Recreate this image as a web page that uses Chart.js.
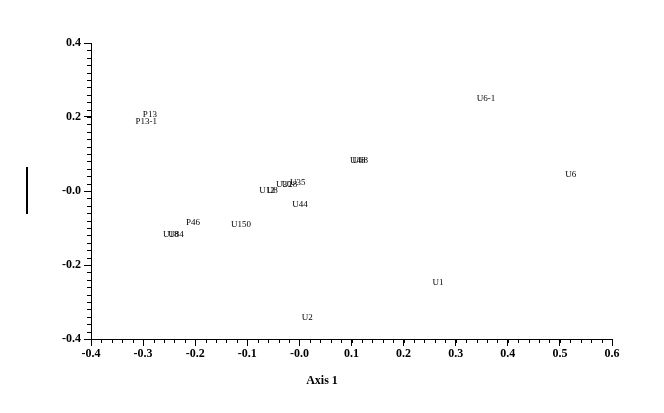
<!DOCTYPE html>
<html>
<head>
<meta charset="utf-8">
<script src="https://cdn.jsdelivr.net/npm/chart.js@4"></script>
<style>
  html, body { margin: 0; padding: 0; background: #fff; }
  #wrap { width: 664px; height: 413px; }
</style>
</head>
<body>
<div id="wrap"><canvas id="grafico"></canvas></div>
<script>
// rotulos das amostras e coordenadas (eixo 1, eixo 2)
const rotulos = ["P13", "P13-1", "U6-1", "U48", "U68", "U6", "U12", "U8", "U30", "U28", "U35", "U44", "P46", "U150", "U18", "U84", "U1", "U2"]
const eixo1 = [-0.287, -0.294, 0.358, 0.112, 0.117, 0.521, -0.062, -0.052, -0.030, -0.019, -0.003, 0.001, -0.204, -0.112, -0.247, -0.237, 0.266, 0.015]
const eixo2 = [0.206, 0.187, 0.249, 0.082, 0.082, 0.044, 0.001, 0.001, 0.016, 0.017, 0.022, -0.037, -0.086, -0.091, -0.118, -0.118, -0.248, -0.343]

const limitesX = [-0.4, 0.6]
const limitesY = [-0.4, 0.4]
const tituloX = "Axis 1"

const fonteEixo = { family: "'Liberation Serif', serif", size: 12, weight: "bold" }

function rotuloTick(v) {
  if (Math.abs(v) < 1e-9) return "-0.0"
  return v.toFixed(1)
}

// desenha os rotulos, os ticks menores, o titulo do eixo 1 e a barra do eixo 2
const pluginRotulos = {
  id: "rotulos",
  afterDraw(chart) {
    const ctx = chart.ctx
    const x = chart.scales.x
    const y = chart.scales.y
    ctx.save()
    ctx.strokeStyle = "#000"
    ctx.lineWidth = 1
    // ticks menores a cada 0.02
    for (let i = 0; i <= 50; i++) {
      const v = limitesX[0] + i * 0.02
      const px = Math.round(x.getPixelForValue(v)) + 0.5
      ctx.beginPath()
      ctx.moveTo(px, x.top)
      ctx.lineTo(px, x.top + 4)
      ctx.stroke()
    }
    for (let i = 0; i <= 40; i++) {
      const v = limitesY[0] + i * 0.02
      const py = Math.round(y.getPixelForValue(v)) + 0.5
      ctx.beginPath()
      ctx.moveTo(y.right, py)
      ctx.lineTo(y.right - 4, py)
      ctx.stroke()
    }
    // barra no lugar do titulo do eixo 2
    ctx.lineWidth = 2
    ctx.beginPath()
    ctx.moveTo(27, 167)
    ctx.lineTo(27, 214)
    ctx.stroke()
    // titulo do eixo 1 (fica um pouco a esquerda do centro)
    ctx.fillStyle = "#000"
    ctx.font = "bold 12px 'Liberation Serif', serif"
    ctx.textAlign = "center"
    ctx.textBaseline = "middle"
    ctx.fillText(tituloX, 322, 381)
    // rotulos dos pontos
    ctx.font = "9px 'Liberation Serif', serif"
    const meta = chart.getDatasetMeta(0)
    meta.data.forEach((pt, i) => {
      ctx.fillText(rotulos[i], pt.x, pt.y)
    })
    ctx.restore()
  }
}

const grafico = new Chart(document.getElementById("grafico"), {
  type: "scatter",
  data: {
    datasets: [{
      data: eixo1.map((v, i) => ({ x: v, y: eixo2[i] })),
      pointRadius: 0,
      pointHoverRadius: 0
    }]
  },
  options: {
    responsive: true,
    maintainAspectRatio: false,
    animation: false,
    events: [],
    layout: { padding: { top: 43, right: 52, left: 0, bottom: 0 } },
    plugins: { legend: { display: false }, tooltip: { enabled: false } },
    scales: {
      x: {
        type: "linear",
        min: limitesX[0],
        max: limitesX[1],
        afterFit: (s) => { s.height = 74 },
        ticks: { stepSize: 0.1, color: "#000", font: fonteEixo, padding: 1, maxRotation: 0, callback: rotuloTick },
        grid: { drawOnChartArea: false, tickLength: 7, color: "#000", tickColor: "#000" },
        border: { display: true, color: "#000", width: 1 }
      },
      y: {
        type: "linear",
        min: limitesY[0],
        max: limitesY[1],
        afterFit: (s) => { s.width = 91 },
        ticks: { stepSize: 0.2, color: "#000", font: fonteEixo, padding: 3, callback: rotuloTick },
        grid: { drawOnChartArea: false, tickLength: 7, color: "#000", tickColor: "#000" },
        border: { display: true, color: "#000", width: 1 }
      }
    }
  },
  plugins: [pluginRotulos]
})
</script>
</body>
</html>
